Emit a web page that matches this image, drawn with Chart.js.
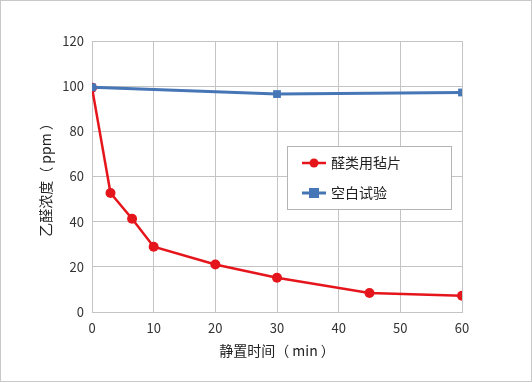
<!DOCTYPE html>
<html><head><meta charset="utf-8">
<script src="https://cdn.jsdelivr.net/npm/chart.js@4"></script>
<style>html,body{margin:0;padding:0;background:#fff}#wrap{width:532px;height:383px;position:relative}</style>
</head><body><div id="wrap"><canvas id="c" width="532" height="383"></canvas></div>
<script>
const xTicks = [0,10,20,30,40,50,60];
const yTicks = [0,20,40,60,80,100,120];
const redLabel = '醛类用毡片';
const redTime = [0,3,6.5,10,20,30,45,60];
const redValues = [99.3,52.7,41.3,28.9,21,15.2,8.4,7.2];
const blueLabel = '空白试验';
const blueTime = [0,30,60];
const blueValues = [99.5,96.5,97.2];
const xTitle = '静置时间（ min ）';
const yTitle = '乙醛浓度（ ppm ）';

const FONT = '"Noto Sans CJK SC", "Noto Sans", sans-serif';
const RED = '#e5151c', BLUE = '#4676b6';

const frame = {id:'frame', beforeDraw(ch){const c=ch.ctx;c.save();c.fillStyle='#fff';c.fillRect(0,0,532,383);c.strokeStyle='#c8c8c8';c.lineWidth=1;c.strokeRect(0.5,0.5,531,381);c.restore();}};
const legendBox = {id:'legendBox', afterDraw(ch){
  const c=ch.ctx; c.save();
  c.fillStyle='#fff'; c.fillRect(287.5,146.5,164,63);
  c.strokeStyle='#b4b4b4'; c.lineWidth=1; c.strokeRect(287.5,146.5,164,63);
  ch.data.datasets.forEach((ds,i)=>{
    const y = 163 + i*30;
    c.strokeStyle=ds.borderColor; c.lineWidth=ds.borderWidth;
    c.beginPath(); c.moveTo(302,y); c.lineTo(326,y); c.stroke();
    c.fillStyle=ds.backgroundColor;
    if(ds.pointStyle==='rect'){c.fillRect(309,y-5,10,10);} else {c.beginPath();c.arc(314,y,4.5,0,Math.PI*2);c.fill();}
    c.fillStyle='#222'; c.font='14px '+FONT; c.textBaseline='middle'; c.textAlign='left';
    c.fillText(ds.label,331,y);
  });
  c.restore();
}};

new Chart(document.getElementById('c'),{
  type:'line',
  data:{datasets:[
    {label:redLabel,data:redTime.map((t,i)=>({x:t,y:redValues[i]})),borderColor:RED,backgroundColor:RED,borderWidth:2.5,pointRadius:5,pointStyle:'circle',pointBorderWidth:0,order:1},
    {label:blueLabel,data:blueTime.map((t,i)=>({x:t,y:blueValues[i]})),borderColor:BLUE,backgroundColor:BLUE,borderWidth:3,pointRadius:5.5,pointStyle:'rect',pointBorderWidth:0,order:0}
  ]},
  options:{
    responsive:false,animation:false,
    layout:{padding:{left:0,top:41,right:70,bottom:0}},
    plugins:{legend:{display:false},tooltip:{enabled:false}},
    scales:{
      x:{type:'linear',min:0,max:60,
        afterBuildTicks(s){s.ticks=xTicks.map(v=>({value:v}));},
        afterFit(s){s.height=71;},
        grid:{color:'#c4c4c4',drawTicks:false},border:{color:'#c4c4c4'},
        ticks:{padding:8,color:'#333',font:{family:FONT,size:13}},
        title:{display:true,text:xTitle,color:'#222',font:{family:FONT,size:14},padding:{top:0,bottom:24}}},
      y:{type:'linear',min:0,max:120,
        afterBuildTicks(s){s.ticks=yTicks.map(v=>({value:v}));},
        afterFit(s){s.width=92;},
        grid:{color:'#c4c4c4',drawTicks:false},border:{color:'#c4c4c4'},
        ticks:{padding:8,color:'#333',font:{family:FONT,size:13}},
        title:{display:true,text:yTitle,color:'#222',font:{family:FONT,size:14},padding:{top:37,bottom:0}}}
    }
  },
  plugins:[frame,legendBox]
});
</script></body></html>
